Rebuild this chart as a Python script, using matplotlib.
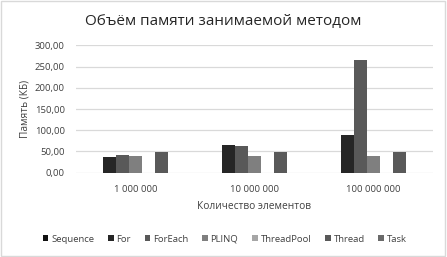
import matplotlib
matplotlib.use("Agg")
import matplotlib.pyplot as plt
from matplotlib.patches import Rectangle
from matplotlib.ticker import FuncFormatter
import numpy as np

plt.rcParams['font.family'] = ['Open Sans', 'DejaVu Sans']

categories = ["1 000 000", "10 000 000", "100 000 000"]
series_names = ["Sequence", "For", "ForEach", "PLINQ", "ThreadPool", "Thread", "Task"]
seq_vals = [0, 0, 0]
for_vals = [37, 65.5, 88]
foreach_vals = [41, 64, 265]
plinq_vals = [40, 40.5, 40.5]
threadpool_vals = [0, 0, 0]
thread_vals = [48, 48, 48]
task_vals = [0, 0, 0]
all_vals = [seq_vals, for_vals, foreach_vals, plinq_vals, threadpool_vals, thread_vals, task_vals]
colors = ["#111111", "#262626", "#595959", "#7f7f7f", "#a6a6a6", "#595959", "#6a6a6a"]

fig = plt.figure(figsize=(4.47, 2.57), dpi=100)
fig.patches.append(Rectangle((0.002, 0.004), 0.994, 0.992, transform=fig.transFigure,
                             fill=False, edgecolor="#d9d9d9", linewidth=1.0))
ax = fig.add_axes([0.170, 0.328, 0.7987, 0.4957])

x = np.arange(len(categories))
w = 0.109
for i, (name, vals, c) in enumerate(zip(series_names, all_vals, colors)):
    ax.bar(x + (i - 3) * w, vals, width=w, color=c, label=name, zorder=3)

ax.set_xlim(-0.5, 2.5)
ax.set_ylim(0, 300)
ax.set_yticks(np.arange(0, 301, 50))
ax.yaxis.set_major_formatter(FuncFormatter(lambda v, p: f"{v:.2f}".replace('.', ',')))
ax.set_xticks(x)
ax.set_xticklabels(categories)
ax.grid(axis='y', color="#d9d9d9", linewidth=0.9, zorder=0)
for s in ax.spines.values():
    s.set_visible(False)
ax.tick_params(axis='both', length=0, labelsize=6.8, colors="#404040")
ax.tick_params(axis='y', pad=8)
ax.tick_params(axis='x', pad=9)

ax.set_ylabel("Память (КБ)", fontsize=7.3, color="#404040", labelpad=3)
ax.set_xlabel("Количество элементов", fontsize=7.3, color="#404040", labelpad=5)
fig.text(0.5, 1 - 22 / 257, "Объём памяти занимаемой методом", ha='center', va='center',
         fontsize=11, color="#262626")

fig.legend(loc='center', bbox_to_anchor=(0.503, 1 - 239 / 257), ncol=7, frameon=False,
           fontsize=6.8, handlelength=0.6, handleheight=0.6, handletextpad=0.3,
           columnspacing=1.45, labelcolor="#404040")

fig.savefig("out.png", dpi=100)
